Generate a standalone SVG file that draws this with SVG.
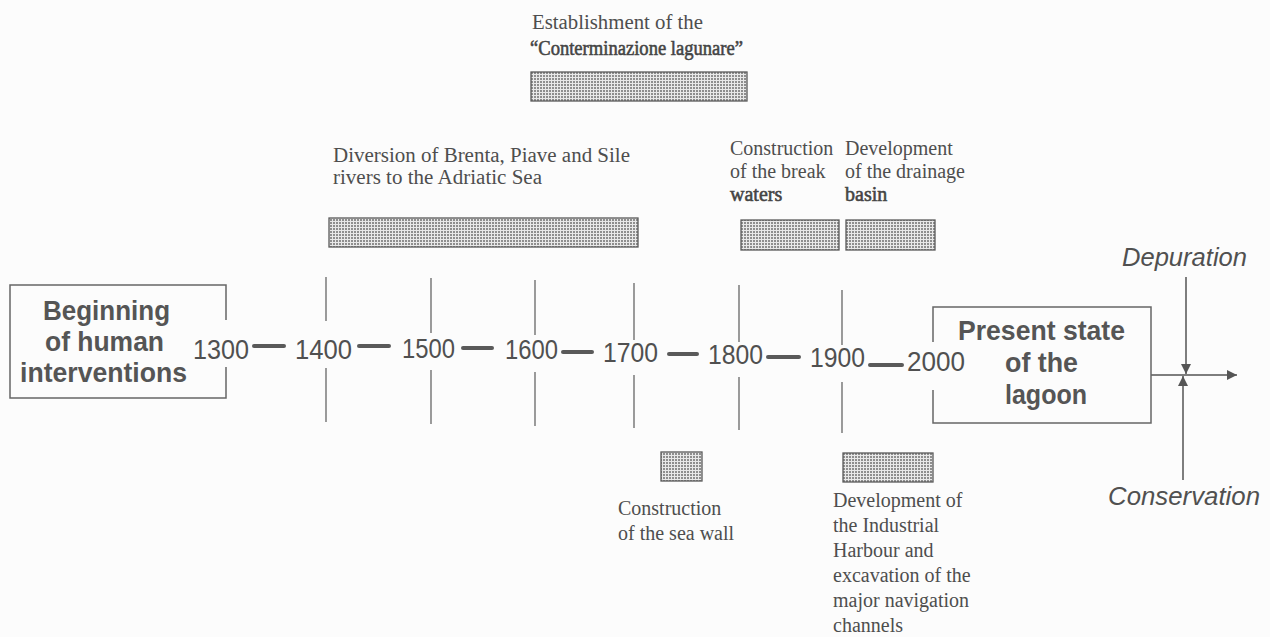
<svg xmlns="http://www.w3.org/2000/svg" width="1270" height="637" viewBox="0 0 1270 637">
  <defs>
    <pattern id="dots" width="3" height="3" patternUnits="userSpaceOnUse">
      <rect width="3" height="3" fill="#e8e8e8"/>
      <rect width="2" height="2" fill="#8e8e8e"/>
    </pattern>
    <marker id="head" viewBox="0 0 10 10" refX="10" refY="5" markerWidth="10" markerHeight="10" markerUnits="userSpaceOnUse" orient="auto">
      <path d="M0,0 L10,5 L0,10 Z" fill="#555"/>
    </marker>
  </defs>
  <style>
    .bg { fill: #fcfcfc; }
    .bar { fill: url(#dots); stroke: #5a5a5a; stroke-width: 1.3; }
    .frame { fill: none; stroke: #666; stroke-width: 1.5; }
    .tick { stroke: #5a5a5a; stroke-width: 1.2; fill: none; }
    .dash { stroke: #5a5a5a; stroke-width: 4; stroke-linecap: round; }
    .arrow { stroke: #555; stroke-width: 1.5; fill: none; }
    .serif { font-family: "Liberation Serif", "Times New Roman", serif; font-size: 20px; fill: #4e4e4e; }
    .serif-b { font-family: "Liberation Serif", "Times New Roman", serif; font-size: 20px; fill: #444; stroke: #444; stroke-width: 0.55; }
    .year { font-family: "Liberation Sans", Arial, sans-serif; font-size: 28px; fill: #505050; }
    .title { font-family: "Liberation Sans", Arial, sans-serif; font-size: 28px; font-weight: bold; fill: #555; }
    .ital { font-family: "Liberation Sans", Arial, sans-serif; font-size: 25px; font-style: italic; fill: #505050; }
  </style>

  <rect class="bg" width="1270" height="637"/>

  <!-- timeline ticks, dashes and the output arrows -->
  <g id="connectors">
    <path class="tick" d="M326,277 V321 M326,368 V422"/>
    <path class="tick" d="M431,278 V333 M431,370 V424"/>
    <path class="tick" d="M535,280 V335 M535,372 V426"/>
    <path class="tick" d="M634,283 V340 M634,375 V428"/>
    <path class="tick" d="M739,285 V342 M739,377 V430"/>
    <path class="tick" d="M842,290 V345 M842,382 V433"/>

    <line class="dash" x1="254" y1="346" x2="284" y2="346"/>
    <line class="dash" x1="359" y1="346" x2="389" y2="346"/>
    <line class="dash" x1="463" y1="348" x2="492" y2="348"/>
    <line class="dash" x1="563" y1="352" x2="592" y2="352"/>
    <line class="dash" x1="669" y1="354" x2="697" y2="354"/>
    <line class="dash" x1="768" y1="357" x2="799" y2="357"/>
    <line class="dash" x1="870" y1="365" x2="902" y2="365"/>

    <line class="arrow" x1="1151" y1="375" x2="1237" y2="375" marker-end="url(#head)"/>
    <line class="arrow" x1="1186" y1="277" x2="1186" y2="374" marker-end="url(#head)"/>
    <line class="arrow" x1="1183" y1="480" x2="1183" y2="376" marker-end="url(#head)"/>
  </g>

  <g id="start-node">
    <path class="frame" d="M226,320 V285 H10 V398 H226 V367"/>
    <text class="title" x="43" y="320" textLength="127" lengthAdjust="spacingAndGlyphs">Beginning</text>
    <text class="title" x="45" y="351" textLength="119" lengthAdjust="spacingAndGlyphs">of human</text>
    <text class="title" x="20" y="382" textLength="167" lengthAdjust="spacingAndGlyphs">interventions</text>
  </g>

  <g id="end-node">
    <path class="frame" d="M933,342 V307 H1151 V423 H933 V390"/>
    <text class="title" x="958" y="340" textLength="167" lengthAdjust="spacingAndGlyphs">Present state</text>
    <text class="title" x="1005" y="372" textLength="73" lengthAdjust="spacingAndGlyphs">of the</text>
    <text class="title" x="1005" y="404" textLength="82" lengthAdjust="spacingAndGlyphs">lagoon</text>
  </g>

  <g id="years">
    <text class="year" x="193" y="359" textLength="56" lengthAdjust="spacingAndGlyphs">1300</text>
    <text class="year" x="295" y="359" textLength="57" lengthAdjust="spacingAndGlyphs">1400</text>
    <text class="year" x="402" y="358" textLength="53" lengthAdjust="spacingAndGlyphs">1500</text>
    <text class="year" x="505" y="359" textLength="53" lengthAdjust="spacingAndGlyphs">1600</text>
    <text class="year" x="603" y="362" textLength="55" lengthAdjust="spacingAndGlyphs">1700</text>
    <text class="year" x="708" y="364" textLength="55" lengthAdjust="spacingAndGlyphs">1800</text>
    <text class="year" x="810" y="367" textLength="55" lengthAdjust="spacingAndGlyphs">1900</text>
    <text class="year" x="907" y="371" textLength="58" lengthAdjust="spacingAndGlyphs">2000</text>
  </g>

  <g id="conterminazione">
    <text class="serif" x="532" y="29" textLength="171" lengthAdjust="spacingAndGlyphs">Establishment of the</text>
    <text class="serif-b" x="530" y="55" textLength="213" lengthAdjust="spacingAndGlyphs">“Conterminazione lagunare”</text>
    <rect class="bar" x="531" y="72" width="216" height="29"/>
  </g>

  <g id="river-diversion">
    <text class="serif" x="333" y="162" textLength="297" lengthAdjust="spacingAndGlyphs">Diversion of Brenta, Piave and Sile</text>
    <text class="serif" x="333" y="184" textLength="209" lengthAdjust="spacingAndGlyphs">rivers to the Adriatic Sea</text>
    <rect class="bar" x="329" y="218" width="309" height="29"/>
  </g>

  <g id="break-waters">
    <text class="serif" x="730" y="155">Construction</text>
    <text class="serif" x="730" y="178">of the break</text>
    <text class="serif-b" x="730" y="201">waters</text>
    <rect class="bar" x="741" y="220" width="98" height="30"/>
  </g>

  <g id="drainage-basin">
    <text class="serif" x="845" y="155">Development</text>
    <text class="serif" x="845" y="178">of the drainage</text>
    <text class="serif-b" x="845" y="201">basin</text>
    <rect class="bar" x="846" y="220" width="89" height="30"/>
  </g>

  <g id="sea-wall">
    <rect class="bar" x="661" y="452" width="41" height="29"/>
    <text class="serif" x="618" y="515">Construction</text>
    <text class="serif" x="618" y="540">of the sea wall</text>
  </g>

  <g id="industrial-harbour">
    <rect class="bar" x="843" y="453" width="90" height="29"/>
    <text class="serif" x="833" y="507">Development of</text>
    <text class="serif" x="833" y="532">the Industrial</text>
    <text class="serif" x="833" y="557">Harbour and</text>
    <text class="serif" x="833" y="582">excavation of the</text>
    <text class="serif" x="833" y="607">major navigation</text>
    <text class="serif" x="833" y="632">channels</text>
  </g>

  <g id="depuration">
    <text class="ital" x="1122" y="266" textLength="125" lengthAdjust="spacingAndGlyphs">Depuration</text>
  </g>
  <g id="conservation">
    <text class="ital" x="1108" y="505" textLength="152" lengthAdjust="spacingAndGlyphs">Conservation</text>
  </g>
</svg>
